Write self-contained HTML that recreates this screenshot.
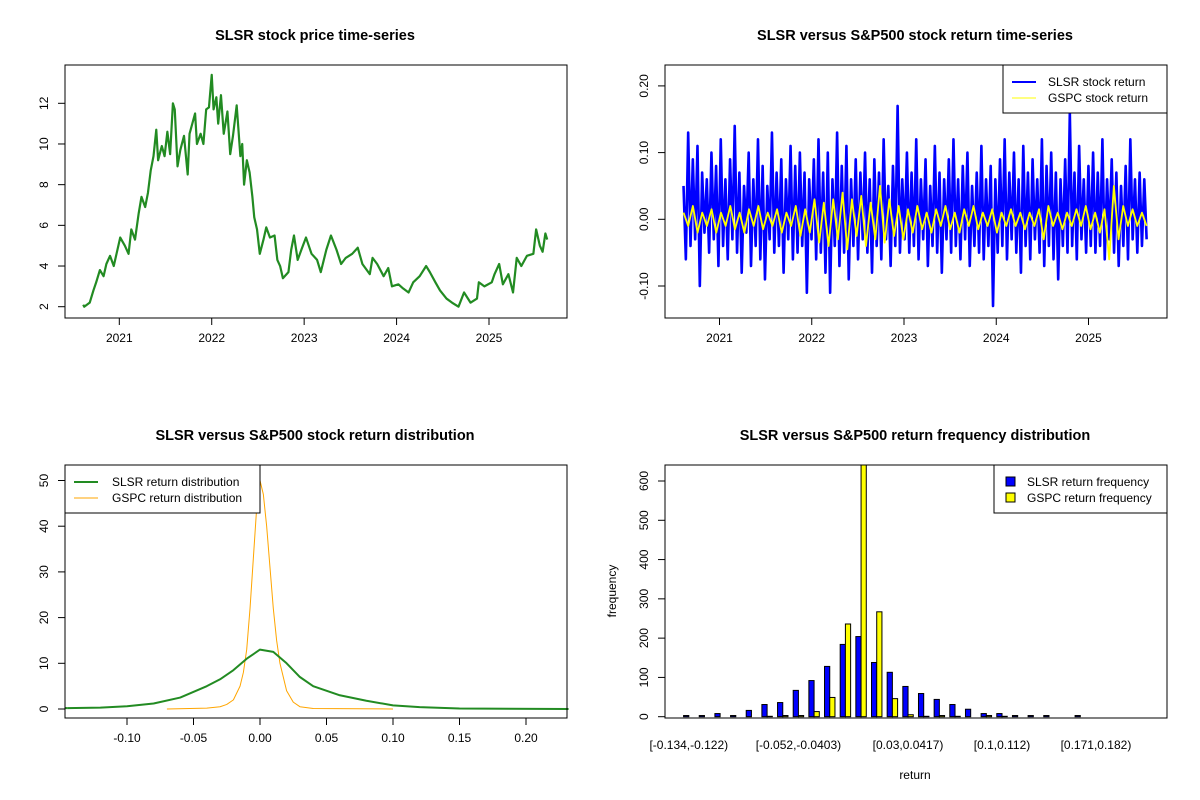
<!DOCTYPE html>
<html><head><meta charset="utf-8"><style>
body{margin:0;background:#fff}
svg{display:block;font-family:"Liberation Sans",Arial,sans-serif}
</style></head><body>
<svg id="c" width="1200" height="800" viewBox="0 0 1200 800"></svg>
<script>
// ---------- data ----------
const priceDates=[2020.61,2020.62,2020.68,2020.72,2020.75,2020.79,2020.83,2020.86,2020.90,2020.94,2020.97,2021.01,2021.06,2021.10,2021.13,2021.17,2021.21,2021.24,2021.28,2021.31,2021.34,2021.37,2021.40,2021.42,2021.46,2021.49,2021.52,2021.55,2021.58,2021.60,2021.63,2021.66,2021.70,2021.74,2021.76,2021.79,2021.82,2021.84,2021.88,2021.91,2021.94,2021.97,2022.00,2022.02,2022.05,2022.07,2022.10,2022.13,2022.17,2022.20,2022.23,2022.27,2022.31,2022.33,2022.35,2022.38,2022.41,2022.44,2022.46,2022.49,2022.52,2022.56,2022.59,2022.63,2022.68,2022.71,2022.74,2022.77,2022.83,2022.86,2022.89,2022.93,2022.97,2023.02,2023.08,2023.14,2023.18,2023.24,2023.29,2023.35,2023.40,2023.45,2023.52,2023.58,2023.63,2023.71,2023.74,2023.79,2023.86,2023.91,2023.95,2024.02,2024.07,2024.13,2024.18,2024.25,2024.32,2024.36,2024.42,2024.47,2024.54,2024.60,2024.67,2024.73,2024.80,2024.87,2024.89,2024.95,2025.03,2025.06,2025.11,2025.15,2025.21,2025.26,2025.30,2025.35,2025.41,2025.48,2025.51,2025.55,2025.58,2025.61,2025.63];
const priceValues=[2.1,2.0,2.2,2.8,3.2,3.8,3.5,4.1,4.5,4.0,4.6,5.4,5.0,4.6,5.8,5.3,6.6,7.4,6.9,7.6,8.7,9.4,10.7,9.2,9.9,9.4,10.6,9.5,12.0,11.7,8.9,9.7,10.4,8.5,10.5,11.0,11.5,10.0,10.5,10.0,11.7,11.8,13.4,11.7,12.3,11.0,12.4,10.5,11.6,9.5,10.4,11.9,9.4,10.0,8.0,9.2,8.6,7.4,6.4,5.8,4.6,5.3,5.9,5.4,5.5,4.3,4.0,3.4,3.7,4.8,5.5,4.3,4.8,5.4,4.6,4.3,3.7,4.8,5.5,4.8,4.1,4.4,4.6,4.9,4.1,3.6,4.4,4.1,3.5,3.9,3.0,3.1,2.9,2.7,3.2,3.5,4.0,3.7,3.2,2.8,2.4,2.2,2.0,2.7,2.2,2.4,3.2,3.0,3.2,3.6,4.1,3.1,3.6,2.7,4.4,4.0,4.5,4.6,5.8,5.0,4.7,5.6,5.3];
const slsrReturns=[0.05,-0.06,0.13,-0.04,0.09,-0.03,0.11,-0.10,0.07,-0.02,0.06,-0.05,0.10,-0.03,0.08,-0.07,
0.12,-0.04,0.06,-0.06,0.09,-0.03,0.14,-0.05,0.07,-0.08,0.05,-0.02,0.10,-0.07,0.06,-0.04,0.12,-0.06,0.08,-0.09,0.05,-0.03,0.13,-0.05,0.07,-0.04,0.09,-0.08,0.06,-0.03,0.11,-0.06,0.08,-0.05,0.10,-0.04,0.07,-0.11,0.06,-0.03,
0.09,-0.06,0.12,-0.05,0.07,-0.08,0.10,-0.11,0.06,-0.04,0.13,-0.07,0.08,-0.05,0.11,-0.09,0.06,-0.04,0.09,-0.06,0.07,-0.03,0.10,-0.05,0.06,-0.08,0.09,-0.04,0.07,-0.06,0.12,-0.03,0.05,-0.07,0.08,-0.04,0.17,-0.05,0.06,-0.03,
0.10,-0.05,0.07,-0.04,0.12,-0.06,0.06,-0.03,0.09,-0.07,0.05,-0.04,0.11,-0.05,0.07,-0.08,0.06,-0.03,0.09,-0.05,0.12,-0.04,0.06,-0.06,0.08,-0.03,0.10,-0.07,0.05,-0.04,0.07,-0.05,0.11,-0.06,0.06,-0.04,0.08,-0.13,0.06,-0.05,
0.09,-0.04,0.12,-0.06,0.07,-0.03,0.10,-0.05,0.06,-0.08,0.11,-0.04,0.07,-0.06,0.09,-0.03,0.06,-0.05,0.12,-0.07,0.08,-0.04,0.10,-0.06,0.07,-0.09,0.06,-0.04,0.09,-0.05,0.16,-0.04,0.07,-0.06,0.11,-0.03,0.06,-0.05,0.08,-0.04,
0.10,-0.05,0.07,-0.04,0.12,-0.06,0.06,-0.03,0.09,-0.05,0.07,-0.07,0.05,-0.04,0.08,-0.06,0.12,-0.03,0.06,-0.05,0.07,-0.04,0.06,-0.03];
const gspcReturns=[0.01,-0.01,0.02,-0.02,0.01,-0.01,0.015,-0.02,0.01,-0.01,
0.02,-0.015,0.01,-0.02,0.015,-0.01,0.02,-0.015,0.01,-0.01,0.015,-0.02,0.01,-0.01,0.02,-0.025,0.015,-0.02,
0.03,-0.035,0.025,-0.04,0.03,-0.03,0.04,-0.045,0.03,-0.025,0.035,-0.04,0.025,-0.03,0.05,-0.035,0.03,-0.025,0.02,-0.03,
0.015,-0.02,0.02,-0.015,0.01,-0.02,0.015,-0.01,0.02,-0.015,0.01,-0.02,0.015,-0.01,0.02,-0.015,0.01,-0.01,0.015,-0.02,
0.01,-0.01,0.015,-0.01,0.01,-0.015,0.01,-0.01,0.015,-0.03,0.02,-0.01,0.01,-0.015,0.01,-0.01,0.015,-0.01,0.02,-0.015,
0.01,-0.02,0.015,-0.06,0.05,-0.03,0.02,-0.01,0.015,-0.01,0.01,-0.01];
const slsrDensX=[-0.145,-0.12,-0.10,-0.08,-0.06,-0.04,-0.03,-0.02,-0.01,0,0.01,0.02,0.03,0.04,0.06,0.08,0.10,0.12,0.15,0.232];
const slsrDensY=[0.2,0.3,0.6,1.2,2.5,5,6.5,8.5,11,13,12.5,10,7,5,3,1.8,0.8,0.4,0.1,0.0];
const gspcDensX=[-0.07,-0.04,-0.03,-0.025,-0.02,-0.015,-0.0125,-0.01,-0.0075,-0.005,-0.0025,0,0.0025,0.005,0.0075,0.01,0.0125,0.015,0.02,0.025,0.03,0.04,0.10];
const gspcDensY=[0,0.2,0.5,1,2,5,8,13,22,33,44,50,47,40,31,22,15,10,4,1.5,0.5,0.1,0];
const slsrFreq=[3,3,8,3,16,31,36,67,92,128,184,204,138,113,77,59,44,31,19,8,8,3,3,3,0,3,0,0,0,0];
const gspcFreq=[0,0,0,0,0,1,3,3,13,49,236,680,267,46,5,1,3,1,0,3,1,0,0,0,0,0,0,0,0,0];
const binLabels=["[-0.134,-0.122)","[-0.052,-0.0403)","[0.03,0.0417)","[0.1,0.112)","[0.171,0.182)"];
const binLabelIdx=[0,7,14,20,26];
const yearTicks=[2021,2022,2023,2024,2025];
const priceTicks=[2,4,6,8,10,12];
const retTicks=[-0.10,0.00,0.10,0.20];
const densXTicks=[-0.10,-0.05,0.00,0.05,0.10,0.15,0.20];
const densYTicks=[0,10,20,30,40,50];
const freqTicks=[0,100,200,300,400,500,600];

// ---------- helpers ----------
const svg=document.getElementById('c');const NS='http://www.w3.org/2000/svg';
function el(tag,attrs,parent){const e=document.createElementNS(NS,tag);for(const k in attrs)e.setAttribute(k,attrs[k]);(parent||svg).appendChild(e);return e;}
function txt(s,x,y,attrs){const e=el('text',Object.assign({x:x,y:y,'font-size':12,fill:'#000','text-anchor':'middle'},attrs||{}));e.textContent=s;return e;}
function lin(d0,d1,r0,r1){return v=>r0+(v-d0)*(r1-r0)/(d1-d0);}
function box(x0,y0,x1,y1){return el('rect',{x:x0,y:y0,width:x1-x0,height:y1-y0,fill:'none',stroke:'#000','stroke-width':1});}
function yAxis(ticks,sy,x0,fmt,name){const g=el('g',{});
 el('line',{x1:x0,x2:x0,y1:sy(ticks[0]),y2:sy(ticks[ticks.length-1]),stroke:'#000'},g);
 ticks.forEach(t=>{const y=sy(t);el('line',{x1:x0-7,x2:x0,y1:y,y2:y,stroke:'#000'},g);
 const tx=txt(fmt(t),x0-17,y,{transform:`rotate(-90 ${x0-17} ${y})`});g.appendChild(tx);});}
function xAxis(ticks,sx,y0,fmt,name){const g=el('g',{});
 el('line',{x1:sx(ticks[0]),x2:sx(ticks[ticks.length-1]),y1:y0,y2:y0,stroke:'#000'},g);
 ticks.forEach(t=>{const x=sx(t);el('line',{x1:x,x2:x,y1:y0,y2:y0+7,stroke:'#000'},g);g.appendChild(txt(fmt(t),x,y0+24));});}
function title(s,x,y,name){const t=txt(s,x,y,{'font-size':14.5,'font-weight':'bold'});}
function poly(xs,ys,sx,sy,color,w,name){const p=el('polyline',{points:xs.map((v,i)=>sx(v)+','+sy(ys[i])).join(' '),fill:'none',stroke:color,'stroke-width':w,'stroke-linejoin':'round'});return p;}
function evenDates(n){const a=[];for(let i=0;i<n;i++)a.push(2020.61+i*(2025.63-2020.61)/(n-1));return a;}

// ---------- panel 1 ----------
{const sx=lin(2021,2025,119.3,489),sy=lin(2,12,306.7,103.3);
 title('SLSR stock price time-series',315,40,'price-chart-title');
 poly(priceDates,priceValues,sx,sy,'#228B22',2.2,'slsr-price-line');
 box(65,65,567,318);
 xAxis(yearTicks,sx,318,t=>t,'price-x-axis');
 yAxis(priceTicks,sy,65,t=>t,'price-y-axis');}

// ---------- panel 2 ----------
{const sx=lin(2021,2025,719.5,1088.5),sy=lin(0,0.1,219.3,152.6);
 title('SLSR versus S&P500 stock return time-series',915,40,'return-chart-title');
 poly(evenDates(slsrReturns.length),slsrReturns,sx,sy,'#0000FF',2.6,'slsr-return-line');
 poly(evenDates(gspcReturns.length),gspcReturns,sx,sy,'#FFFF00',1.8,'gspc-return-line');
 box(665,65,1167,318);
 xAxis(yearTicks,sx,318,t=>t,'return-x-axis');
 yAxis(retTicks,sy,665,t=>t.toFixed(2),'return-y-axis');
 const g=el('g',{});
 el('rect',{x:1003,y:65,width:164,height:48,fill:'#fff',stroke:'#000'},g);
 el('line',{x1:1012,x2:1036,y1:82,y2:82,stroke:'#0000FF','stroke-width':2},g);
 el('line',{x1:1012,x2:1036,y1:98,y2:98,stroke:'#FFFF00','stroke-width':1},g);
 g.appendChild(txt('SLSR stock return',1048,86,{'text-anchor':'start'}));
 g.appendChild(txt('GSPC stock return',1048,102,{'text-anchor':'start'}));}

// ---------- panel 3 ----------
{const sx=lin(0,0.1,260,393),sy=lin(0,50,709,480.5);
 title('SLSR versus S&P500 stock return distribution',315,440,'density-chart-title');
 poly(gspcDensX,gspcDensY,sx,sy,'#FFA500',1,'gspc-density-line');
 poly(slsrDensX,slsrDensY,sx,sy,'#228B22',2,'slsr-density-line');
 el('line',{x1:65,x2:sx(slsrDensX[0]),y1:sy(slsrDensY[0]),y2:sy(slsrDensY[0]),stroke:'#228B22','stroke-width':2});
 box(65,465,567,718);
 xAxis(densXTicks,sx,718,t=>t.toFixed(2),'density-x-axis');
 yAxis(densYTicks,sy,65,t=>t,'density-y-axis');
 const g=el('g',{});
 el('rect',{x:65,y:465,width:195,height:48,fill:'#fff',stroke:'#000'},g);
 el('line',{x1:74,x2:98,y1:482,y2:482,stroke:'#228B22','stroke-width':2},g);
 el('line',{x1:74,x2:98,y1:498,y2:498,stroke:'#FFA500','stroke-width':1},g);
 g.appendChild(txt('SLSR return distribution',112,486,{'text-anchor':'start'}));
 g.appendChild(txt('GSPC return distribution',112,502,{'text-anchor':'start'}));}

// ---------- panel 4 ----------
{const unit=5.22,x0=665+2.56*unit,sy=lin(0,600,716.7,481);
 title('SLSR versus S&P500 return frequency distribution',915,440,'frequency-chart-title');
 const clip=el('clipPath',{id:'cp4'});el('rect',{x:665,y:465,width:502,height:253},clip);
 const bars=el('g',{'clip-path':'url(#cp4)'});
 slsrFreq.forEach((v,i)=>{const x=x0+(i*3+1)*unit;const r=el('rect',{x:x,y:sy(v),width:unit,height:sy(0)-sy(v),fill:'#0000FF',stroke:'#000','stroke-width':1},bars);
  });
 gspcFreq.forEach((v,i)=>{const x=x0+(i*3+2)*unit;const r=el('rect',{x:x,y:sy(v),width:unit,height:sy(0)-sy(v),fill:'#FFFF00',stroke:'#000','stroke-width':1},bars);
  });
 box(665,465,1167,718);
 yAxis(freqTicks,sy,665,t=>t,'frequency-y-axis');
 binLabelIdx.forEach((b,k)=>{const t=txt(binLabels[k],x0+(b*3+2)*unit,749);});
 const xl=txt('return',915,779);
 const yl=txt('frequency',616,591,{transform:'rotate(-90 616 591)'});
 const g=el('g',{});
 el('rect',{x:994,y:465,width:173,height:48,fill:'#fff',stroke:'#000'},g);
 el('rect',{x:1006,y:477,width:9,height:9,fill:'#0000FF',stroke:'#000'},g);
 el('rect',{x:1006,y:493,width:9,height:9,fill:'#FFFF00',stroke:'#000'},g);
 g.appendChild(txt('SLSR return frequency',1027,486,{'text-anchor':'start'}));
 g.appendChild(txt('GSPC return frequency',1027,502,{'text-anchor':'start'}));}
</script>
</body></html>
